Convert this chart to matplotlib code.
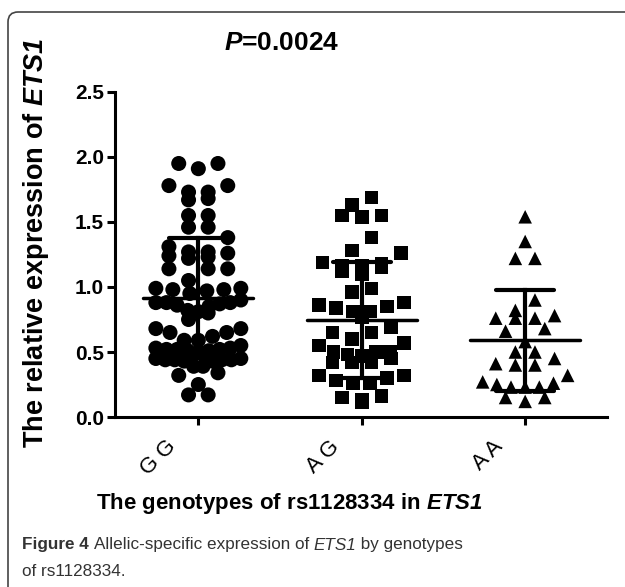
"""
Scatter dot plot: ETS1 relative expression by rs1128334 genotype
"""

import numpy as np
import matplotlib
matplotlib.use('Agg')
import matplotlib.pyplot as plt
from matplotlib.patches import FancyBboxPatch
from matplotlib.transforms import ScaledTranslation, IdentityTransform

plt.rcParams['font.family'] = ['Liberation Sans', 'DejaVu Sans']
plt.rcParams['mathtext.fontset'] = 'custom'
plt.rcParams['mathtext.sf'] = 'Liberation Sans:italic:bold'
plt.rcParams['mathtext.rm'] = 'Liberation Sans'

# ---- data ----
genotypes = ['G G', 'A G', 'A A']

gg_vals = [1.95, 1.91, 1.95, 1.78, 1.78, 1.73, 1.73, 1.68, 1.67,
           1.55, 1.55, 1.46, 1.46, 1.38,
           1.31, 1.27, 1.27, 1.26, 1.24, 1.23, 1.22,
           1.14, 1.14, 1.14, 1.05,
           0.99, 0.99, 0.98, 0.98, 0.97, 0.95,
           0.90, 0.88, 0.88, 0.88, 0.87, 0.86, 0.85,
           0.82, 0.81, 0.80, 0.75,
           0.68, 0.68, 0.65, 0.65, 0.62, 0.59, 0.59,
           0.55, 0.53, 0.53, 0.52, 0.52, 0.51, 0.51, 0.50, 0.52,
           0.45, 0.45, 0.44, 0.44, 0.44, 0.44, 0.43, 0.43,
           0.39, 0.39, 0.34, 0.32, 0.25, 0.17, 0.17]

ag_vals = [1.69, 1.63, 1.55, 1.54, 1.55, 1.38, 1.28, 1.26, 1.19, 1.18,
           1.16, 1.16, 1.15, 1.12, 1.10,
           0.99, 0.96, 0.88, 0.86, 0.85, 0.84, 0.81, 0.81, 0.77,
           0.69, 0.65, 0.65, 0.60, 0.57, 0.55,
           0.50, 0.50, 0.50, 0.48, 0.47, 0.45, 0.42, 0.42, 0.42,
           0.32, 0.32, 0.30, 0.28, 0.26, 0.26,
           0.16, 0.15, 0.13, 0.11]

aa_vals = [1.54, 1.35, 1.22, 1.22, 0.90, 0.82, 0.78, 0.76, 0.76, 0.76,
           0.68, 0.66, 0.58, 0.50, 0.50, 0.45, 0.41, 0.40, 0.40, 0.32,
           0.27, 0.26, 0.25, 0.23, 0.23, 0.23, 0.15, 0.15, 0.12]

means = [0.915, 0.745, 0.59]
sds = [0.46, 0.445, 0.39]

markers = ['o', 's', '^']
marker_sizes = [117, 95, 95]

# ---- figure ----
fig = plt.figure(figsize=(6.25, 5.87), dpi=100)
ax = fig.add_axes([0.184, 0.2896, 0.787, 0.5537])
ax.set_xlim(-0.51, 2.5)
ax.set_ylim(0, 2.5)

# rounded frame around the panel (pixel coords)
frame = FancyBboxPatch((8, -40), 700, 587 - 12 + 40,
                       boxstyle='round,pad=0,rounding_size=10',
                       transform=IdentityTransform(), fill=False,
                       edgecolor='#444444', linewidth=1.2)
fig.patches.append(frame)


def row_scatter(vals, center, row_h=0.115, step=0.12, half_width=0.26):
    """GraphPad-like layout: points binned into rows and spread evenly"""
    vals = np.asarray(vals)
    rows = np.floor(vals / row_h).astype(int)
    xs = np.zeros(len(vals))
    for r in np.unique(rows):
        idx = np.where(rows == r)[0]
        idx = idx[np.argsort(vals[idx])]
        # alternate centre / left / right so the row stays symmetric
        n = len(idx)
        st = step if n < 2 else min(step, 2 * half_width / (n - 1))
        slots = (np.arange(n) - (n - 1) / 2) * st
        order = np.argsort(np.abs(slots), kind='stable')
        xs[idx] = center + slots[order]
    return xs


for i, vals in enumerate([gg_vals, ag_vals, aa_vals]):
    xs = row_scatter(vals, i)
    ax.scatter(xs, vals, marker=markers[i], s=marker_sizes[i], color='black',
               edgecolors='none', zorder=2)
    m, s = means[i], sds[i]
    ax.plot([i - 0.336, i + 0.336], [m, m], color='black', lw=2.5,
            solid_capstyle='round', zorder=3)
    ax.plot([i, i], [m - s, m + s], color='black', lw=3, zorder=3)
    for yy in (m - s, m + s):
        ax.plot([i - 0.177, i + 0.177], [yy, yy], color='black', lw=3,
                solid_capstyle='round', zorder=3)

ax.spines['top'].set_visible(False)
ax.spines['right'].set_visible(False)
ax.spines['left'].set_linewidth(2.2)
ax.spines['bottom'].set_linewidth(2.2)
ax.set_yticks([0, 0.5, 1.0, 1.5, 2.0, 2.5])
ax.set_yticklabels(['0.0', '0.5', '1.0', '1.5', '2.0', '2.5'],
                   fontsize=15, fontweight='bold')
ax.set_xticks([0, 1, 2])
ax.set_xticklabels(genotypes, fontsize=16, rotation=45, ha='right',
                   rotation_mode='anchor')
ax.tick_params(axis='both', length=6, width=2.2, pad=2)
for lab in ax.get_xticklabels():
    lab.set_transform(lab.get_transform() + ScaledTranslation(-0.33, -0.08, fig.dpi_scale_trans))

# titles and labels
fig.text(282 / 625, 1 - 43 / 587, r'$\mathsf{P}$=0.0024', fontsize=19,
         fontweight='bold', ha='center', va='center')
fig.text(36 / 625, 1 - 243 / 587, r'The relative expression of $\mathsf{ETS1}$',
         fontsize=19.5, fontweight='bold', rotation=90, ha='center', va='center')
fig.text(289 / 625, 1 - 503 / 587, r'The genotypes of rs1128334 in $\mathsf{ETS1}$',
         fontsize=16, fontweight='bold', ha='center', va='center')

# caption, drawn piece by piece so the styles can mix
renderer = fig.canvas.get_renderer()


def caption_line(x_px, y_px, pieces, size=12.3):
    x = x_px
    for txt, weight, style in pieces:
        t = fig.text(x / 625, 1 - y_px / 587, txt, fontsize=size, fontweight=weight,
                     fontstyle=style, color='#333333', ha='left', va='center')
        x += t.get_window_extent(renderer).width
    return x


caption_line(22, 545, [('Figure 4 ', 'bold', 'normal'),
                       ('Allelic-specific expression of ', 'normal', 'normal'),
                       ('ETS1', 'normal', 'italic'),
                       (' by genotypes', 'normal', 'normal')])
caption_line(22, 572, [('of rs1128334.', 'normal', 'normal')])

fig.savefig('out.png', dpi=100)
